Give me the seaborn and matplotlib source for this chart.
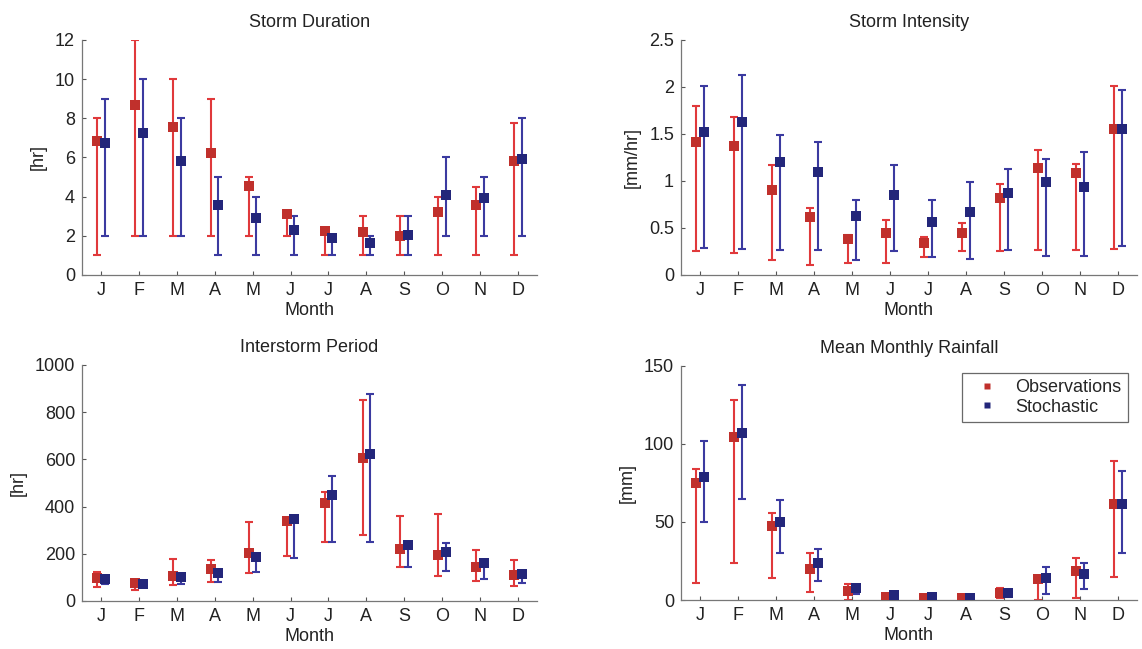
import numpy as np
import pandas as pd
import matplotlib
matplotlib.use("Agg")
import matplotlib.pyplot as plt
import seaborn as sns

months = ["J", "F", "M", "A", "M", "J", "J", "A", "S", "O", "N", "D"]

# Storm Duration [hr]
dur_obs = [6.84, 8.66, 7.57, 6.21, 4.54, 3.10, 2.26, 2.18, 1.99, 3.22, 3.57, 5.82]
dur_obs_lo = [1, 2, 2, 2, 2, 2, 1, 1, 1, 1, 1, 1]
dur_obs_hi = [8, 12, 10, 9, 5, 3.1, 2.3, 3, 3, 4, 4.5, 7.75]
dur_sto = [6.72, 7.23, 5.80, 3.59, 2.91, 2.31, 1.91, 1.62, 2.03, 4.07, 3.93, 5.94]
dur_sto_lo = [2, 2, 2, 1, 1, 1, 1, 1, 1, 2, 2, 2]
dur_sto_hi = [9, 10, 8, 5, 4, 3, 2, 2, 3, 6, 5, 8]

# Storm Intensity [mm/hr]
int_obs = [1.41, 1.37, 0.90, 0.62, 0.38, 0.45, 0.34, 0.45, 0.82, 1.14, 1.09, 1.55]
int_obs_lo = [0.26, 0.23, 0.16, 0.11, 0.13, 0.13, 0.19, 0.25, 0.26, 0.27, 0.27, 0.28]
int_obs_hi = [1.80, 1.68, 1.17, 0.71, 0.43, 0.58, 0.40, 0.55, 0.97, 1.33, 1.18, 2.01]
int_sto = [1.52, 1.63, 1.20, 1.10, 0.63, 0.85, 0.56, 0.67, 0.87, 0.99, 0.94, 1.55]
int_sto_lo = [0.29, 0.28, 0.27, 0.27, 0.16, 0.25, 0.19, 0.17, 0.27, 0.20, 0.20, 0.31]
int_sto_hi = [2.01, 2.13, 1.49, 1.41, 0.80, 1.17, 0.80, 0.99, 1.13, 1.23, 1.31, 1.97]

# Interstorm Period [hr]
isp_obs = [99, 76, 106, 137, 202, 339, 417, 607, 219, 194, 144, 109]
isp_obs_lo = [59, 45, 66, 80, 120, 192, 250, 280, 145, 105, 85, 65]
isp_obs_hi = [124, 82, 177, 175, 335, 352, 462, 850, 358, 370, 215, 173]
isp_sto = [94, 71, 103, 120, 188, 349, 451, 624, 236, 208, 162, 113]
isp_sto_lo = [70, 60, 72, 80, 122, 180, 250, 250, 145, 125, 95, 75]
isp_sto_hi = [106, 80, 108, 125, 190, 352, 528, 878, 245, 245, 175, 120]

# Mean Monthly Rainfall [mm]
rain_obs = [75.3, 104.5, 47.3, 20.0, 5.8, 2.1, 1.0, 1.0, 4.7, 13.2, 18.8, 61.4]
rain_obs_lo = [11, 24, 14, 5, 0, 0, 0, 0, 1, 0, 1, 15]
rain_obs_hi = [84, 128, 56, 30, 10, 3, 2, 1.5, 8, 13.5, 27, 89]
rain_sto = [78.7, 107.0, 49.7, 23.7, 7.5, 3.2, 1.7, 1.0, 4.3, 14.3, 16.6, 61.8]
rain_sto_lo = [50, 65, 30, 12, 4, 1, 0.5, 0.5, 2, 4, 7, 30]
rain_sto_hi = [102, 138, 64, 33, 9, 5, 2.5, 1.5, 6, 21, 24, 83]

panels = [
    ("Storm Duration", "[hr]", (0, 12), [0, 2, 4, 6, 8, 10, 12], ["0", "2", "4", "6", "8", "10", "12"],
     (dur_obs, dur_obs_lo, dur_obs_hi), (dur_sto, dur_sto_lo, dur_sto_hi)),
    ("Storm Intensity", "[mm/hr]", (0, 2.5), [0, 0.5, 1, 1.5, 2, 2.5], ["0", "0.5", "1", "1.5", "2", "2.5"],
     (int_obs, int_obs_lo, int_obs_hi), (int_sto, int_sto_lo, int_sto_hi)),
    ("Interstorm Period", "[hr]", (0, 1000), [0, 200, 400, 600, 800, 1000], ["0", "200", "400", "600", "800", "1000"],
     (isp_obs, isp_obs_lo, isp_obs_hi), (isp_sto, isp_sto_lo, isp_sto_hi)),
    ("Mean Monthly Rainfall", "[mm]", (0, 150), [0, 50, 100, 150], ["0", "50", "100", "150"],
     (rain_obs, rain_obs_lo, rain_obs_hi), (rain_sto, rain_sto_lo, rain_sto_hi)),
]

sns.set_theme(style="ticks")
plt.rcParams["font.family"] = ["Liberation Sans", "DejaVu Sans"]

RED_LINE = "#e0393b"
RED_MK = "#c0302c"
BLUE_LINE = "#3b3aa0"
BLUE_MK = "#23267a"

fig = plt.figure(figsize=(11.42, 6.49), dpi=100)
rects = [
    [0.0718, 0.5763, 0.3984, 0.3621],
    [0.5963, 0.5763, 0.3993, 0.3621],
    [0.0718, 0.0740, 0.3984, 0.3636],
    [0.5963, 0.0755, 0.3993, 0.3606],
]

month_num = np.arange(1, 13)
offset = 0.1

for i, (title, ylab, ylim, yt, ytl, obs, sto) in enumerate(panels):
    ax = fig.add_axes(rects[i])
    rows = []
    for series, (vals, lo, hi), sgn in (("Observations", obs, -1), ("Stochastic", sto, 1)):
        for m, v, l, h in zip(month_num, vals, lo, hi):
            rows.append({"x": m + sgn * offset, "value": v, "lo": l, "hi": h, "series": series})
    df = pd.DataFrame(rows)
    for series, lc in (("Observations", RED_LINE), ("Stochastic", BLUE_LINE)):
        d = df[df.series == series]
        ax.errorbar(d["x"], d["value"],
                    yerr=[d["value"] - d["lo"], d["hi"] - d["value"]],
                    fmt="none", ecolor=lc, elinewidth=1.5, capsize=3.2, capthick=1.5, zorder=2)
    sns.scatterplot(data=df, x="x", y="value", hue="series",
                    palette={"Observations": RED_MK, "Stochastic": BLUE_MK},
                    marker="s", s=52, edgecolor="none", ax=ax, zorder=3,
                    legend=(i == 3))
    ax.set_xlim(0.5, 12.5)
    ax.set_ylim(*ylim)
    ax.set_yticks(yt)
    ax.set_yticklabels(ytl)
    ax.set_xticks(month_num)
    ax.set_xticklabels(months)
    ax.set_title(title, fontsize=13, color="#222222", pad=9)
    ax.set_xlabel("Month", fontsize=13, color="#222222", labelpad=2)
    ax.set_ylabel(ylab, fontsize=13, color="#222222", labelpad=6)
    ax.tick_params(axis="both", direction="in", length=3, width=0.8, colors="#555555",
                   labelsize=13, labelcolor="#222222", pad=5)
    for s in ("top", "right"):
        ax.spines[s].set_visible(False)
    for s in ("left", "bottom"):
        ax.spines[s].set_color("#777777")
        ax.spines[s].set_linewidth(0.9)
    if i == 3:
        leg = ax.legend(loc="upper right", bbox_to_anchor=(1.0, 1.01), fontsize=13,
                        frameon=True, fancybox=False, edgecolor="#444444",
                        handletextpad=0.6, borderpad=0.35, labelspacing=0.15,
                        markerscale=0.6, title=None)
        leg.get_frame().set_linewidth(0.9)

fig.savefig("out.png", dpi=100)
